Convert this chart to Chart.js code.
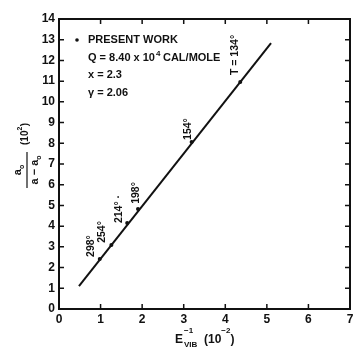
<!DOCTYPE html>
<html>
<head>
<meta charset="utf-8">
<script src="https://cdn.jsdelivr.net/npm/chart.js@4.4.1/dist/chart.umd.min.js"></script>
<style>
html, body { margin: 0; padding: 0; background: #fff; }
canvas { display: block; }
</style>
</head>
<body>
<canvas id="chart" width="354" height="347"></canvas>
<script>
const tempLabels = ['298°', '254°', '214° ·', '198°', '154°', 'T = 134°'];
const invEnergy = [0.98, 1.26, 1.64, 1.90, 3.19, 4.36];   // E_vib^-1 (10^-2)
const ratio = [2.41, 3.09, 4.15, 4.83, 8.06, 10.96];      // a0/(a-a0) (10^2)

// straight fit line, end points
const fitX = [0.48, 5.10];
const fitY = [1.11, 12.84];

const xTicks = [0, 1, 2, 3, 4, 5, 6, 7];
const yTicks = [0, 1, 2, 3, 4, 5, 6, 7, 8, 9, 10, 11, 12, 13, 14];

const legendLines = ['PRESENT WORK', 'Q = 8.40 x 10', 'x = 2.3', 'γ = 2.06'];

// where each temperature label sits relative to its point (px)
const labelOffsets = [[-9, -13], [-9, -13], [-8, -14], [-2, -16], [-4, -13], [-5, -27]];

const ink = '#111';
const FONT = "'Liberation Sans', Arial, sans-serif";

const ctx = document.querySelector('#chart').getContext('2d');

function drawFrame(chart) {
    const c = chart.ctx;
    const a = chart.chartArea;
    const xs = chart.scales.x;
    const ys = chart.scales.y;
    c.save();
    c.strokeStyle = ink;
    c.lineWidth = 2;
    c.strokeRect(a.left, a.top, a.right - a.left, a.bottom - a.top);
    c.lineWidth = 1.5;
    c.beginPath();
    // inward ticks on all four sides
    for (const v of xTicks) {
        const px = xs.getPixelForValue(v);
        c.moveTo(px, a.bottom); c.lineTo(px, a.bottom - 5);
        c.moveTo(px, a.top); c.lineTo(px, a.top + 5);
    }
    for (const v of yTicks) {
        const py = ys.getPixelForValue(v);
        c.moveTo(a.left, py); c.lineTo(a.left + 5, py);
        c.moveTo(a.right, py); c.lineTo(a.right - 5, py);
    }
    c.stroke();
    c.restore();
}

function drawPointLabels(chart) {
    const c = chart.ctx;
    const xs = chart.scales.x;
    const ys = chart.scales.y;
    c.save();
    c.fillStyle = ink;
    c.font = 'bold 10.5px ' + FONT;
    c.textAlign = 'center';
    c.textBaseline = 'middle';
    for (let i = 0; i < tempLabels.length; i++) {
        const px = xs.getPixelForValue(invEnergy[i]) + labelOffsets[i][0];
        const py = ys.getPixelForValue(ratio[i]) + labelOffsets[i][1];
        c.save();
        c.translate(px, py);
        c.rotate(-Math.PI / 2);
        c.fillText(tempLabels[i], 0, 0);
        c.restore();
    }
    c.restore();
}

function drawLegend(chart) {
    const c = chart.ctx;
    const a = chart.chartArea;
    const x0 = a.left + 29;
    const y0 = a.top + 21;
    c.save();
    c.fillStyle = ink;
    c.beginPath();
    c.arc(a.left + 18, y0, 1.8, 0, Math.PI * 2);
    c.fill();
    c.font = 'bold 11px ' + FONT;
    c.textBaseline = 'middle';
    const step = 17.5;
    for (let i = 0; i < legendLines.length; i++) {
        c.fillText(legendLines[i], x0, y0 + i * step);
    }
    // superscript and rest of the Q line
    let w = c.measureText(legendLines[1]).width;
    c.font = 'bold 8px ' + FONT;
    c.fillText('4', x0 + w + 1, y0 + step - 4);
    c.font = 'bold 11px ' + FONT;
    c.fillText('CAL/MOLE', x0 + w + 8, y0 + step);
    c.restore();
}

function drawTitles(chart) {
    const c = chart.ctx;
    c.save();
    c.fillStyle = ink;
    c.strokeStyle = ink;
    c.textBaseline = 'alphabetic';

    // x title: E_VIB^-1 (10^-2)
    let x = 175;
    const base = 343;
    c.font = 'bold 12px ' + FONT;
    c.fillText('E', x, base);
    x += c.measureText('E').width + 1;
    c.font = 'bold 8px ' + FONT;
    c.fillText('−1', x, base - 10);
    c.fillText('VIB', x, base + 3.5);
    x = 204;
    c.font = 'bold 12px ' + FONT;
    c.fillText('(10', x, base);
    x += c.measureText('(10').width;
    c.font = 'bold 8px ' + FONT;
    c.fillText('−2', x, base - 10);
    x += c.measureText('−2').width;
    c.font = 'bold 12px ' + FONT;
    c.fillText(')', x, base);

    // y title: a0 / (a - a0)  (10^2), rotated
    c.translate(27, 170);
    c.rotate(-Math.PI / 2);
    c.lineWidth = 1.2;
    c.beginPath();
    c.moveTo(-18, 0); c.lineTo(18, 0);
    c.stroke();
    c.font = 'bold 11px ' + FONT;
    const wa = c.measureText('a').width;
    c.font = 'bold 7px ' + FONT;
    const wo = c.measureText('o').width;
    let s = -(wa + wo) / 2;
    c.font = 'bold 11px ' + FONT;
    c.fillText('a', s, -6);
    c.font = 'bold 7px ' + FONT;
    c.fillText('o', s + wa, -3);
    c.font = 'bold 11px ' + FONT;
    const wd = c.measureText('a − a').width;
    s = -(wd + wo) / 2;
    c.fillText('a − a', s, 11);
    c.font = 'bold 7px ' + FONT;
    c.fillText('o', s + wd, 13.5);
    c.font = 'bold 10px ' + FONT;
    c.fillText('(10', 25, 1);
    let w = c.measureText('(10').width;
    c.font = 'bold 7px ' + FONT;
    c.fillText('2', 25 + w, -5);
    w += c.measureText('2').width + 0.5;
    c.font = 'bold 10px ' + FONT;
    c.fillText(')', 25 + w, 1);
    c.restore();
}

const chart = new Chart(ctx, {
    type: 'scatter',
    data: {
        datasets: [
            {
                type: 'line',
                data: fitX.map((v, i) => ({ x: v, y: fitY[i] })),
                borderColor: ink,
                borderWidth: 2,
                pointRadius: 0,
                fill: false
            },
            {
                data: invEnergy.map((v, i) => ({ x: v, y: ratio[i] })),
                backgroundColor: ink,
                borderColor: ink,
                pointRadius: 2,
                pointBorderWidth: 0
            }
        ]
    },
    options: {
        responsive: false,
        animation: false,
        devicePixelRatio: 1,
        layout: { padding: { top: 19, right: 1, left: 0, bottom: 0 } },
        plugins: { legend: { display: false }, tooltip: { enabled: false } },
        scales: {
            x: {
                type: 'linear',
                min: 0,
                max: 7,
                afterBuildTicks: (s) => { s.ticks = xTicks.map(v => ({ value: v })); },
                afterFit: (s) => { s.height = 38; s.paddingRight = 0; s.paddingLeft = 0; },
                grid: { display: false, drawTicks: false },
                border: { display: false },
                ticks: { color: ink, padding: 3, font: { family: FONT, size: 12, weight: 'bold' } }
            },
            y: {
                type: 'linear',
                min: 0,
                max: 14,
                afterBuildTicks: (s) => { s.ticks = yTicks.map(v => ({ value: v })); },
                afterFit: (s) => { s.width = 59; s.paddingTop = 0; s.paddingBottom = 0; },
                grid: { display: false, drawTicks: false },
                border: { display: false },
                ticks: { color: ink, padding: 4, font: { family: FONT, size: 12, weight: 'bold' } }
            }
        }
    },
    plugins: [
        {
            id: 'decor',
            afterDraw: (target) => {
                drawFrame(target);
                drawPointLabels(target);
                drawLegend(target);
                drawTitles(target);
            }
        }
    ]
});
</script>
</body>
</html>
